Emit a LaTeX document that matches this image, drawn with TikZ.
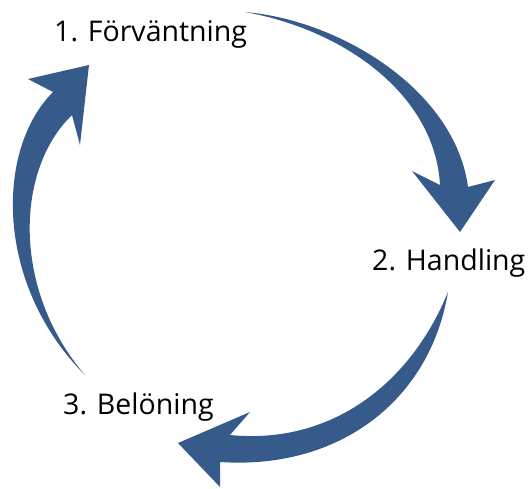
\documentclass[tikz,border=0pt]{standalone}
\usepackage{fontspec}
\setmainfont{Open Sans}
\usepackage{xcolor}
\definecolor{pilblue}{HTML}{365A8A}
\usetikzlibrary{positioning, calc}

\begin{document}
\begin{tikzpicture}[x=1pt, y=-1pt,
        steglabel/.style={anchor=base west, inner sep=0pt, font=\fontsize{28.5}{34}\selectfont},
        pil/.style={fill=pilblue, draw=none}
    ]
    \useasboundingbox (0,0) rectangle (532,488);

    % Noder
    \node[steglabel] (forv) at (54,41) {1. Förväntning};
    \node[steglabel] (hand) at (372,270) {2. Handling};
    \node[steglabel] (belo) at (63,414) {3. Belöning};

    % Pilar
    \coordinate (a1) at (245,12);
    \coordinate (a2) at (448,292);
    \coordinate (a3) at (85,375);

    \fill[pil] (a1) .. controls (340,20) and (455,90) .. (468,187)
        -- (495,180) -- (460,232) -- (412,171) -- (440,185)
        .. controls (435,95) and (345,30) .. (a1) -- cycle;
    \fill[pil] (a2) .. controls (430,400) and (340,470) .. (220,462)
        -- (220,487) -- (178,443) -- (250,412) -- (230,435)
        .. controls (330,445) and (410,385) .. (a2) -- cycle;
    \fill[pil] (a3) .. controls (-5,285) and (-5,150) .. (53,92)
        -- (28,79) -- (89,65) -- (80,145) -- (72,115)
        .. controls (15,170) and (12,290) .. (a3) -- cycle;

\end{tikzpicture}
\end{document}
